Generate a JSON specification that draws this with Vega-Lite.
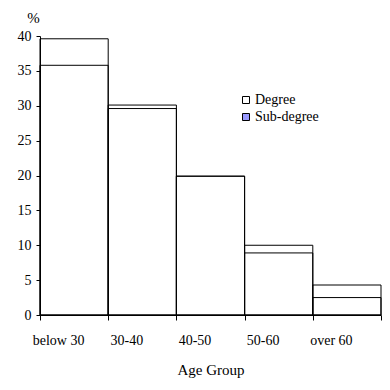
{
  "$schema": "https://vega.github.io/schema/vega-lite/v6.json",
  "autosize": "none",
  "width": 341,
  "height": 279,
  "padding": {"left": 40, "top": 36, "right": 9, "bottom": 75},
  "background": "white",
  "config": {
    "view": {"stroke": null},
    "font": "Liberation Serif",
    "axis": {
      "domainColor": "black",
      "tickColor": "black",
      "labelColor": "black",
      "titleColor": "black",
      "labelFont": "Liberation Serif",
      "titleFont": "Liberation Serif",
      "labelFontSize": 14,
      "titleFontSize": 15,
      "titleFontWeight": "normal",
      "grid": false
    }
  },
  "data": {
    "values": [
      {"group": "below 30", "series": "Sub-degree", "value": 39.6},
      {"group": "30-40", "series": "Sub-degree", "value": 29.6},
      {"group": "40-50", "series": "Sub-degree", "value": 19.9},
      {"group": "50-60", "series": "Sub-degree", "value": 8.9},
      {"group": "over 60", "series": "Sub-degree", "value": 2.5},
      {"group": "below 30", "series": "Degree", "value": 35.8},
      {"group": "30-40", "series": "Degree", "value": 30.1},
      {"group": "40-50", "series": "Degree", "value": 19.9},
      {"group": "50-60", "series": "Degree", "value": 10.0},
      {"group": "over 60", "series": "Degree", "value": 4.3}
    ]
  },
  "mark": {"type": "bar", "fillOpacity": 0, "stroke": "black", "strokeWidth": 1},
  "encoding": {
    "x": {
      "field": "group",
      "type": "nominal",
      "sort": ["below 30", "30-40", "40-50", "50-60", "over 60"],
      "scale": {"paddingInner": 0, "paddingOuter": 0},
      "axis": {
        "title": "Age Group",
        "labelAngle": 0,
        "tickBand": "extent",
        "labelOffset": -16,
        "labelPadding": 13,
        "tickSize": 5,
        "titleBaseline": "middle",
        "titleY": 54
      }
    },
    "y": {
      "field": "value",
      "type": "quantitative",
      "stack": null,
      "scale": {"domain": [0, 40], "nice": false},
      "axis": {
        "values": [0, 5, 10, 15, 20, 25, 30, 35, 40],
        "title": "%",
        "titleAngle": 0,
        "titleAlign": "center",
        "titleBaseline": "middle",
        "titleX": -7,
        "titleY": -19,
        "tickSize": 4,
        "labelPadding": 5
      }
    },
    "fill": {
      "field": "series",
      "type": "nominal",
      "scale": {"domain": ["Degree", "Sub-degree"], "range": ["white", "#9999FF"]},
      "legend": {
        "title": null,
        "orient": "none",
        "legendX": 199,
        "legendY": 57,
        "symbolType": "square",
        "symbolSize": 49,
        "symbolStrokeColor": "black",
        "symbolStrokeWidth": 1,
        "labelFont": "Liberation Serif",
        "labelFontSize": 14,
        "labelColor": "black",
        "labelOffset": 2,
        "rowPadding": 3,
        "encode": {
          "symbols": {"update": {"fillOpacity": {"value": 1}, "opacity": {"value": 1}, "stroke": {"value": "black"}}}
        }
      }
    }
  }
}
